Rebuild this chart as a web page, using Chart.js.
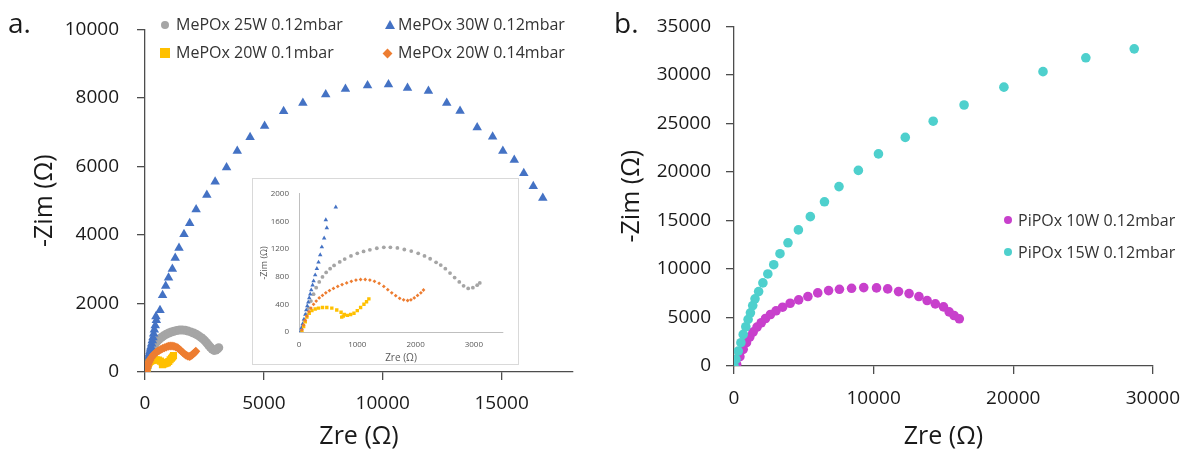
<!DOCTYPE html>
<html>
<head>
<meta charset="utf-8">
<script src="https://cdn.jsdelivr.net/npm/chart.js@4.4.1/dist/chart.umd.min.js"></script>
<style>
  body { margin: 0; background: #fff; font-family: 'Open Sans', sans-serif; }
  #wrap { position: relative; width: 1193px; height: 452px; overflow: hidden; }
  canvas { position: absolute; }
  .lbl { position: absolute; color: #1a1a1a; font-size: 28px; line-height: 28px; }
  .leg { position: absolute; font-size: 16px; line-height: 22px; color: #333; white-space: nowrap; }
  .mk { position: absolute; }
  #insetBox { position: absolute; left: 252px; top: 178px; width: 267px; height: 187px;
              box-sizing: border-box; border: 1px solid #d9d9d9; background: #fff; }
</style>
</head>
<body>
<div id="wrap">
  <canvas id="chartA" width="600" height="452" style="left:0;top:0"></canvas>
  <canvas id="chartB" width="593" height="452" style="left:600px;top:0"></canvas>
  <div id="insetBox"><canvas id="chartInset" width="265" height="185" style="left:0;top:0"></canvas></div>

  <div class="lbl" style="left:8px;top:8px">a.</div>
  <div class="lbl" style="left:614px;top:8px">b.</div>

  <!-- legend panel a -->
  <div class="mk" style="left:161px;top:21px;width:8px;height:8px;border-radius:50%;background:#A5A5A5"></div>
  <div class="leg" style="left:176px;top:13px">MePOx 25W 0.12mbar</div>
  <div class="mk" style="left:385px;top:20px;width:0;height:0;border-left:5px solid transparent;border-right:5px solid transparent;border-bottom:9px solid #4472C4"></div>
  <div class="leg" style="left:398px;top:13px">MePOx 30W 0.12mbar</div>
  <div class="mk" style="left:160px;top:48px;width:10px;height:10px;background:#FFC000"></div>
  <div class="leg" style="left:176px;top:41px">MePOx 20W 0.1mbar</div>
  <div class="mk" style="left:384px;top:50px;width:7px;height:7px;background:#ED7D31;transform:rotate(45deg)"></div>
  <div class="leg" style="left:398px;top:41px">MePOx 20W 0.14mbar</div>

  <!-- legend panel b -->
  <div class="mk" style="left:1004px;top:216px;width:8px;height:8px;border-radius:50%;background:#C840CC"></div>
  <div class="leg" style="left:1018px;top:209px">PiPOx 10W 0.12mbar</div>
  <div class="mk" style="left:1004px;top:248px;width:8px;height:8px;border-radius:50%;background:#4ED0CD"></div>
  <div class="leg" style="left:1018px;top:241px">PiPOx 15W 0.12mbar</div>
</div>

<script>
// MePOx 25W 0.12mbar
const zre25 = [40, 62, 91, 125, 165, 205, 250, 295, 347, 403, 466, 534, 602, 699, 784, 892, 1000, 1108, 1216, 1335,
  1455, 1568, 1688, 1807, 1926, 2045, 2153, 2250, 2352, 2432, 2511, 2591, 2670, 2750, 2824, 2903, 2983, 3057, 3102];
const zim25 = [9, 78, 161, 253, 346, 447, 548, 641, 724, 797, 862, 917, 963, 1014, 1055, 1101, 1138, 1166, 1189, 1212,
  1226, 1226, 1217, 1194, 1171, 1138, 1101, 1060, 1009, 968, 917, 853, 788, 724, 668, 631, 641, 677, 710];

// MePOx 30W 0.12mbar
const zre30 = [16730, 16330, 15930, 15530, 15050, 14620, 13970, 13250, 12690, 11920, 11040, 10240, 9360, 8430, 7600,
  6640, 5830, 5030, 4420, 3880, 3430, 2950, 2600, 2150, 1880, 1640, 1430, 1270, 1150, 990, 870, 740,
  631, 460, 477, 432, 392, 364, 335, 307, 278, 250, 233, 210, 193, 176, 159, 142, 125, 108, 85, 62, 40, 23];
const zim30 = [5080, 5420, 5800, 6190, 6450, 6870, 7140, 7620, 7850, 8200, 8290, 8390, 8360, 8260, 8100,
  7850, 7610, 7180, 6850, 6450, 5970, 5550, 5170, 4740, 4340, 4020, 3620, 3330, 3010, 2750, 2510, 2240,
  1806, 1622, 1507, 1359, 1230, 1115, 1009, 917, 825, 737, 677, 608, 548, 493, 433, 378, 318, 253, 184, 115, 55, 0];

// MePOx 20W 0.1mbar
const zre20a = [51, 80, 108, 136, 176, 222, 278, 335, 403, 477, 563, 648, 722, 733, 760, 778, 830, 886, 943, 1000,
  1057, 1114, 1159, 1199];
const zim20a = [0, 78, 147, 217, 272, 309, 332, 346, 355, 355, 346, 318, 286, 215, 230, 253, 240, 253, 272, 309,
  355, 401, 438, 479];

// MePOx 20W 0.14mbar
const zre20b = [51, 80, 108, 136, 170, 205, 250, 295, 347, 403, 460, 523, 591, 665, 739, 818, 898, 977, 1057, 1136,
  1216, 1295, 1375, 1455, 1523, 1591, 1659, 1727, 1795, 1864, 1920, 1977, 2034, 2091, 2136];
const zim20b = [32, 101, 170, 230, 295, 346, 401, 447, 493, 530, 567, 599, 631, 659, 687, 710, 733, 751, 760, 760,
  751, 733, 705, 659, 613, 567, 525, 488, 465, 456, 465, 493, 530, 567, 608];

// PiPOx 10W 0.12mbar
const zre10 = [188, 423, 659, 894, 1129, 1364, 1647, 1952, 2258, 2611, 3011, 3481, 4023, 4634, 5293, 5999, 6775,
  7551, 8422, 9292, 10209, 11009, 11786, 12538, 13244, 13832, 14420, 15008, 15408, 15762, 16138];
const zim10 = [175, 965, 1715, 2402, 2977, 3491, 4004, 4456, 4897, 5308, 5688, 6057, 6468, 6817, 7156, 7536, 7772,
  7906, 8008, 8080, 8049, 7947, 7669, 7464, 7156, 6745, 6401, 6093, 5580, 5205, 4862];

// PiPOx 15W 0.12mbar
const zre15 = [0, 141, 306, 494, 659, 847, 1011, 1176, 1341, 1505, 1764, 2070, 2423, 2846, 3294, 3867, 4613, 5467,
  6480, 7520, 8907, 10347, 12267, 14267, 16480, 19333, 22133, 25200, 28667];
const zim15 = [0, 688, 1540, 2402, 3255, 4045, 4795, 5483, 6232, 6920, 7669, 8563, 9487, 10441, 11571, 12700, 14028,
  15390, 16922, 18488, 20157, 21859, 23562, 25230, 26898, 28737, 30337, 31767, 32687];

// tick values
const xTicksA = [0, 5000, 10000, 15000];
const yTicksA = [0, 2000, 4000, 6000, 8000, 10000];
const xTicksIn = [0, 1000, 2000, 3000];
const yTicksIn = [0, 400, 800, 1200, 1600, 2000];
const xTicksB = [0, 10000, 20000, 30000];
const yTicksB = [0, 5000, 10000, 15000, 20000, 25000, 30000, 35000];

const FAM = "'Open Sans', sans-serif";
const axisCol = '#4d4d4d';
const textCol = '#1a1a1a';
Chart.defaults.font.family = FAM;

function pts(xs, ys) {
  return xs.map((x, i) => ({ x: x, y: ys[i] }));
}

function series(label, xs, ys, color, style, radius, order) {
  return {
    label: label,
    data: pts(xs, ys),
    backgroundColor: color,
    borderColor: color,
    pointStyle: style,
    pointRadius: radius,
    pointHoverRadius: radius,
    pointBorderWidth: 0,
    order: order
  };
}

// builds a linear axis with fixed ticks
function axis(o) {
  return {
    type: 'linear',
    min: o.min,
    max: o.max,
    afterBuildTicks: s => { s.ticks = o.ticks.map(v => ({ value: v })); },
    afterFit: s => { if (o.width) s.width = o.width; if (o.height) s.height = o.height; },
    ticks: {
      font: { family: FAM, size: o.fontSize },
      color: o.tickColor || textCol,
      padding: o.pad,
      maxRotation: 0,
      autoSkip: false,
      callback: v => String(v)
    },
    grid: {
      display: o.tickLen > 0,
      drawOnChartArea: false,
      drawTicks: true,
      tickLength: o.tickLen,
      color: o.lineColor || axisCol,
      lineWidth: 1.3
    },
    border: { display: true, color: o.lineColor || axisCol, width: o.lineWidth || 1.3 },
    title: {
      display: true,
      text: o.title,
      color: o.titleColor || textCol,
      font: { family: FAM, size: o.titleSize },
      padding: { top: o.titlePad, bottom: 0 }
    }
  };
}

const common = {
  responsive: false,
  animation: false,
  devicePixelRatio: 1,
  events: [],
  plugins: { legend: { display: false }, tooltip: { enabled: false } }
};

// Panel a
new Chart(document.getElementById('chartA').getContext('2d'), {
  type: 'scatter',
  data: {
    datasets: [
      series('MePOx 25W 0.12mbar', zre25, zim25, '#A5A5A5', 'circle', 4.5, 4),
      series('MePOx 30W 0.12mbar', zre30, zim30, '#4472C4', 'triangle', 5.5, 3),
      series('MePOx 20W 0.1mbar', zre20a, zim20a, '#FFC000', 'rect', 5, 2),
      series('MePOx 20W 0.14mbar', zre20b, zim20b, '#ED7D31', 'rectRot', 4.5, 1)
    ]
  },
  options: Object.assign({}, common, {
    layout: { padding: { top: 24, right: 27, left: 0, bottom: 0 } },
    scales: {
      x: axis({ min: 0, max: 18000, ticks: xTicksA, height: 80, fontSize: 19, pad: 12, tickLen: 8,
                title: 'Zre (Ω)', titleSize: 25, titlePad: 0 }),
      y: axis({ min: 0, max: 10000, ticks: yTicksA, width: 145, fontSize: 19, pad: 18, tickLen: 8,
                title: '-Zim (Ω)', titleSize: 25, titlePad: 30 })
    }
  })
});

// Inset of panel a (zoom on low Zre)
new Chart(document.getElementById('chartInset').getContext('2d'), {
  type: 'scatter',
  data: {
    datasets: [
      series('MePOx 25W 0.12mbar', zre25, zim25, '#A5A5A5', 'circle', 1.9, 4),
      series('MePOx 30W 0.12mbar', zre30, zim30, '#4472C4', 'triangle', 2.6, 3),
      series('MePOx 20W 0.1mbar', zre20a, zim20a, '#FFC000', 'rect', 2.4, 2),
      series('MePOx 20W 0.14mbar', zre20b, zim20b, '#ED7D31', 'rectRot', 1.9, 1)
    ]
  },
  options: Object.assign({}, common, {
    layout: { padding: { top: 9, right: 15, left: 0, bottom: 0 } },
    scales: {
      x: axis({ min: 0, max: 3500, ticks: xTicksIn, height: 32, fontSize: 8, pad: 8, tickLen: 0,
                tickColor: '#595959', lineColor: '#bfbfbf', lineWidth: 1,
                title: 'Zre (Ω)', titleSize: 10, titleColor: '#595959', titlePad: 0 }),
      y: axis({ min: 0, max: 2000, ticks: yTicksIn, width: 46, fontSize: 8, pad: 10, tickLen: 0,
                tickColor: '#595959', lineColor: '#bfbfbf', lineWidth: 1,
                title: '-Zim (Ω)', titleSize: 9, titleColor: '#595959', titlePad: 6 })
    }
  })
});

// Panel b
new Chart(document.getElementById('chartB').getContext('2d'), {
  type: 'scatter',
  data: {
    datasets: [
      series('PiPOx 10W 0.12mbar', zre10, zim10, '#C840CC', 'circle', 4.8, 2),
      series('PiPOx 15W 0.12mbar', zre15, zim15, '#4ED0CD', 'circle', 4.8, 1)
    ]
  },
  options: Object.assign({}, common, {
    layout: { padding: { top: 24, right: 26, left: 0, bottom: 0 } },
    scales: {
      x: axis({ min: 0, max: 30000, ticks: xTicksB, height: 86, fontSize: 19, pad: 13, tickLen: 8,
                title: 'Zre (Ω)', titleSize: 25, titlePad: 2 }),
      y: axis({ min: 0, max: 35000, ticks: yTicksB, width: 134, fontSize: 19, pad: 15, tickLen: 8,
                title: '-Zim (Ω)', titleSize: 25, titlePad: 17 })
    }
  })
});
</script>
</body>
</html>
